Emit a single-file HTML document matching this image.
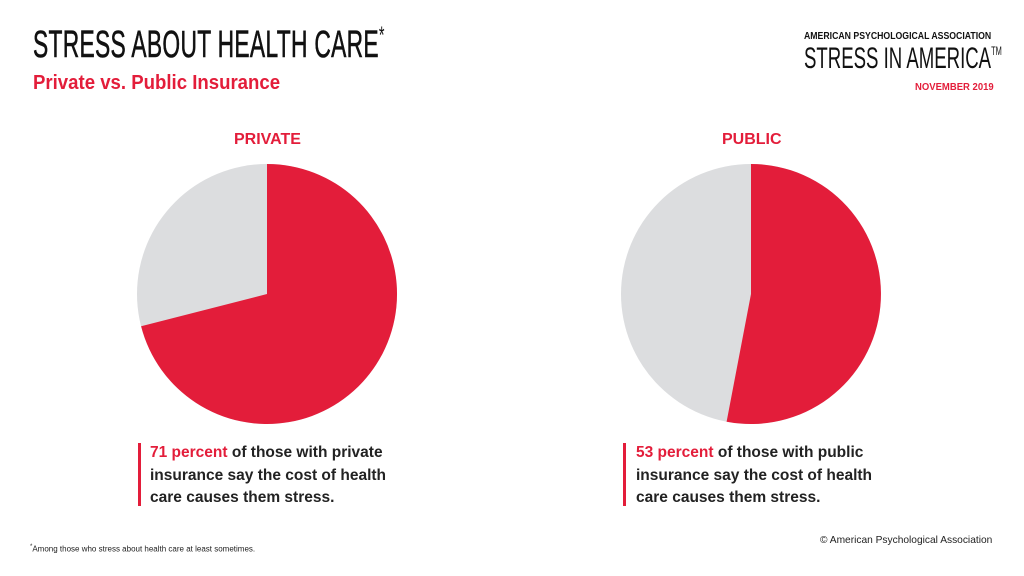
<!DOCTYPE html>
<html><head><meta charset="utf-8"><style>
body{margin:0;width:1024px;height:576px;background:#fff;position:relative;overflow:hidden;font-family:"Liberation Sans",sans-serif;}
.a{position:absolute;white-space:nowrap;}
.cond{transform-origin:0 0;}
.red{color:#e31d3a;}
.txt{font-weight:bold;font-size:15.5px;line-height:22.5px;color:#222;}
.bar{position:absolute;width:3px;background:#e31d3a;}
</style></head><body>
<div class="a cond" style="left:33px;top:24px;font-size:38px;color:#111;transform:scaleX(0.6);letter-spacing:0.5px;-webkit-text-stroke:0.6px #111;">STRESS ABOUT HEALTH CARE<span style="font-size:24px;vertical-align:top;position:relative;top:-2px;-webkit-text-stroke:0;">*</span></div>
<div class="a cond red" style="left:33px;top:72px;font-size:20px;font-weight:bold;transform:scaleX(0.93);">Private vs. Public Insurance</div>
<div class="a cond" style="left:804px;top:30px;font-size:10.5px;font-weight:bold;color:#111;transform:scaleX(0.83);">AMERICAN PSYCHOLOGICAL ASSOCIATION</div>
<div class="a cond" style="left:804px;top:42px;font-size:30px;color:#111;transform:scaleX(0.62);">STRESS IN AMERICA<span style="font-size:12px;vertical-align:top;position:relative;top:2px;">TM</span></div>
<div class="a cond red" style="left:915px;top:82px;font-size:10px;font-weight:bold;transform:scaleX(0.95);">NOVEMBER 2019</div>

<div class="a red" style="left:234px;top:131px;font-size:16px;font-weight:bold;">PRIVATE</div>
<div class="a red" style="left:722px;top:131px;font-size:16px;font-weight:bold;">PUBLIC</div>

<svg class="a" style="left:0;top:0" width="1024" height="576">
<circle cx="267" cy="294" r="130" fill="#dcdddf"/>
<path d="M267 294 L267 164 A130 130 0 1 1 141.1 326.3 Z" fill="#e31d3a"/>
<circle cx="751" cy="294" r="130" fill="#dcdddf"/>
<path d="M751 294 L751 164 A130 130 0 1 1 726.6 421.7 Z" fill="#e31d3a"/>
</svg>

<div class="bar" style="left:138px;top:443px;height:63px;"></div>
<div class="a txt" style="left:150px;top:442px;"><span class="red">71 percent</span> of those with private<br>insurance say the cost of health<br>care causes them stress.</div>
<div class="bar" style="left:623px;top:443px;height:63px;"></div>
<div class="a txt" style="left:636px;top:442px;"><span class="red">53 percent</span> of those with public<br>insurance say the cost of health<br>care causes them stress.</div>

<div class="a" style="left:30px;top:544px;font-size:8px;color:#222;"><sup style="font-size:6px">*</sup>Among those who stress about health care at least sometimes.</div>
<div class="a" style="left:820px;top:535px;font-size:10.2px;color:#222;">© American Psychological Association</div>
</body></html>
